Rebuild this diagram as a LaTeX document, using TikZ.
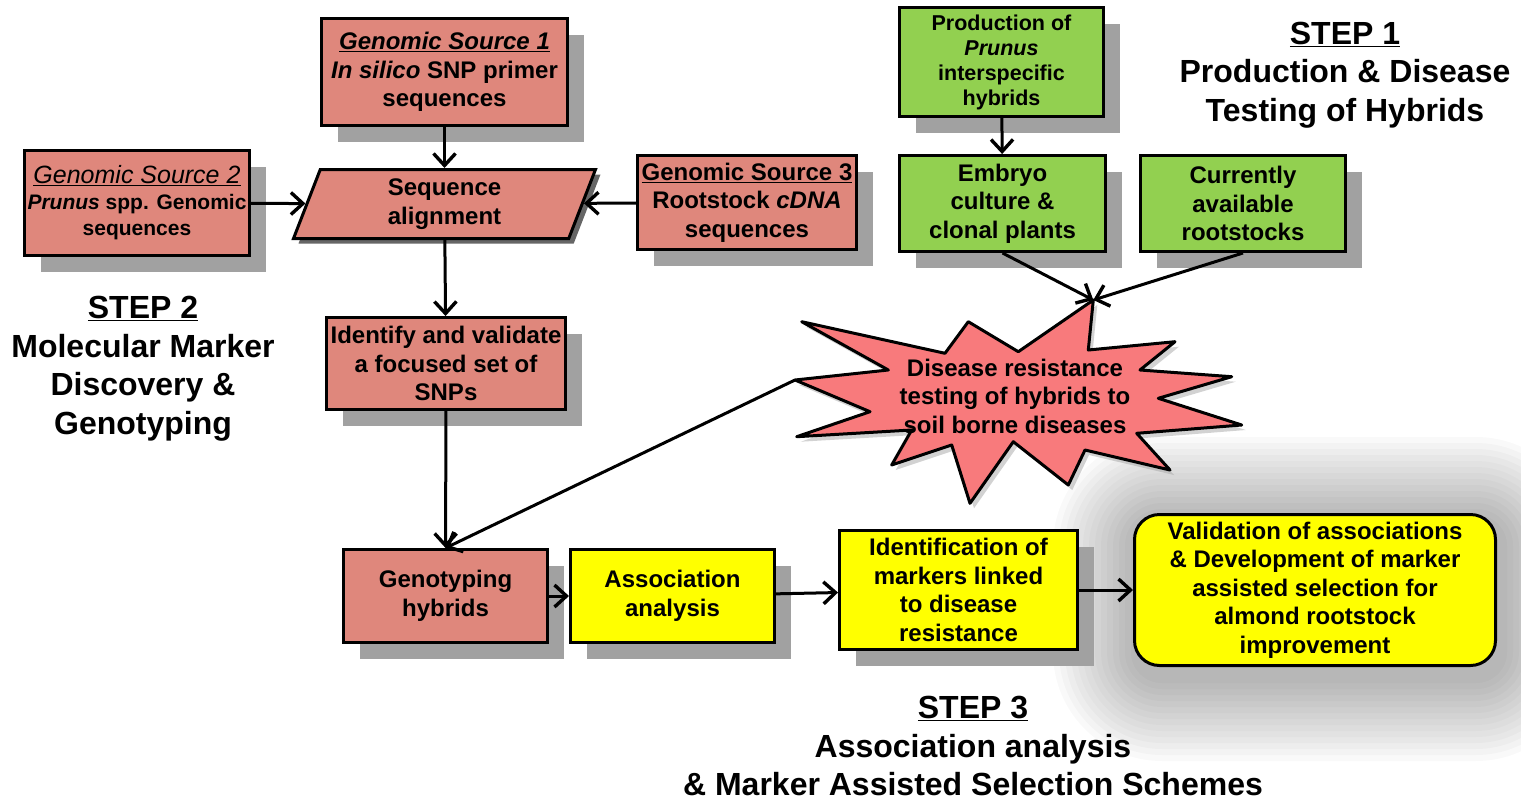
\documentclass[tikz,border=0pt]{standalone}
\usepackage{fontspec}
\setmainfont{Liberation Sans}
\usetikzlibrary{arrows.meta,shapes.geometric,shadows}
\definecolor{boxred}{RGB}{223,135,124}
\definecolor{burstred}{RGB}{248,122,124}
\definecolor{hybgreen}{RGB}{146,208,80}
\definecolor{assocyellow}{RGB}{255,255,0}

\begin{document}
\begin{tikzpicture}[x=1pt,y=-1pt,
font=\fontsize{24}{28.5}\selectfont\bfseries,
box/.style={draw,line width=3pt,align=center,inner sep=0pt,drop shadow={shadow xshift=16pt,shadow yshift=-16pt,fill=black!37,opacity=1}},
redbox/.style={box,fill=boxred},
greenbox/.style={box,fill=hybgreen},
yelbox/.style={box,fill=assocyellow},
arr/.style={-{Straight Barb[length=12pt,width=22pt,line width=3.4pt]},line width=3pt},
steplbl/.style={align=center,font=\fontsize{32}{38.5}\selectfont\bfseries}]
\useasboundingbox (0,0) rectangle (1521,801);

% soft glow behind the last box
\foreach \g in {1,...,14}
  \fill[black,opacity=.022,rounded corners={25+6*\g}] ({1137-6*\g},{521-6*\g}) rectangle ({1501+6*\g},{677+6*\g});

% starburst
\fill[black!35,opacity=.5,shift={(4,5)}] (801.7,321.7)--(945,353.3)--(968.3,321.7)--(1018.3,351.7)--(1093.3,300)--(1088.3,350)--(1175,341.7)--(1140,370)--(1231.7,376.7)--(1158.3,398.3)--(1241.7,425)--(1136.7,433.3)--(1170,470)--(1085,450)--(1068.3,485)--(1013.3,441.7)--(970,503.3)--(951.7,445)--(891.7,465)--(911.7,430)--(796.7,436.7)--(870,411.7)--(795,380)--(888.3,370)--cycle;
\draw[fill=burstred,line width=3pt,line join=round] (801.7,321.7)--(945,353.3)--(968.3,321.7)--(1018.3,351.7)--(1093.3,300)--(1088.3,350)--(1175,341.7)--(1140,370)--(1231.7,376.7)--(1158.3,398.3)--(1241.7,425)--(1136.7,433.3)--(1170,470)--(1085,450)--(1068.3,485)--(1013.3,441.7)--(970,503.3)--(951.7,445)--(891.7,465)--(911.7,430)--(796.7,436.7)--(870,411.7)--(795,380)--(888.3,370)--cycle;
\coordinate (burstN) at (1093.3,300);
\coordinate (burstW) at (795,380);
\node[align=center] (burst) at (1015,396) {Disease resistance\\testing of hybrids to\\soil borne diseases};

\node[redbox,minimum width=246pt,minimum height=107pt] (src1) at (444.5,72) {\underline{\textit{Genomic Source 1}}\\\textit{In silico} SNP primer\\sequences};
\node[redbox,minimum width=225pt,minimum height=105pt,font=\fontsize{21}{26}\selectfont\bfseries] (src2) at (137,203) {{\fontsize{25}{26}\selectfont\mdseries\underline{\textit{Genomic Source 2}}}\\\textit{Prunus} spp. Genomic\\sequences};
\node[redbox,minimum width=219pt,minimum height=94pt] (src3) at (747,202.5) {\underline{Genomic Source 3}\\Rootstock \textit{cDNA}\\sequences};
\node[trapezium,trapezium left angle=62,trapezium right angle=118,trapezium stretches body,draw,line width=3pt,fill=boxred,minimum width=302pt,minimum height=69pt,inner sep=0pt,align=center,drop shadow={shadow xshift=5pt,shadow yshift=-5pt,fill=black!60,opacity=1}] (seq) at (444.5,204) {Sequence\\alignment};
\node[redbox,minimum width=239pt,minimum height=92pt] (snps) at (446,363.5) {Identify and validate\\a focused set of\\SNPs};
\node[redbox,minimum width=204pt,minimum height=93pt] (geno) at (445.5,596) {Genotyping\\hybrids};
\node[yelbox,minimum width=204pt,minimum height=93pt] (assoc) at (672.5,596) {Association\\analysis};
\node[yelbox,minimum width=238pt,minimum height=119pt] (markers) at (958.5,590) {Identification of\\markers linked\\to disease\\resistance};
\node[draw,line width=3pt,fill=assocyellow,rounded corners=25pt,align=center,inner sep=0pt,minimum width=361pt,minimum height=151pt] (valid) at (1315,590) {Validation of associations\\\& Development of marker\\assisted selection for\\almond rootstock\\improvement};
\node[greenbox,minimum width=204pt,minimum height=109pt,font=\fontsize{21.5}{25}\selectfont\bfseries] (hyb) at (1001.5,62) {Production of\\\textit{Prunus}\\interspecific\\hybrids};
\node[greenbox,minimum width=206pt,minimum height=96pt] (embryo) at (1002.5,203.5) {Embryo\\culture \&\\clonal plants};
\node[greenbox,minimum width=205pt,minimum height=96pt] (curr) at (1243,203.5) {Currently\\available\\rootstocks};

\node[steplbl] (step1) at (1345,75) {\underline{STEP 1}\\Production \& Disease\\Testing of Hybrids};
\node[steplbl] (step2) at (143,368.5) {\underline{STEP 2}\\Molecular Marker\\Discovery \&\\Genotyping};
\node[steplbl] (step3) at (973,746) {\underline{STEP 3}\\Association analysis\\\& Marker Assisted Selection Schemes};

\draw[arr] (src1) -- (seq);
\draw[arr] (src2) -- (seq);
\draw[arr] (src3) -- (seq);
\draw[arr] (seq) -- (snps);
\draw[arr] (snps) -- (geno);
\draw[arr] (burstW) -- (geno.north);
\draw[arr] (hyb) -- (embryo);
\draw[arr] (embryo.south) -- (burstN);
\draw[arr] (curr.south) -- (burstN);
\draw[arr] (geno) -- (assoc);
\draw[arr] (assoc) -- (markers);
\draw[arr] (markers) -- (valid);
\end{tikzpicture}
\end{document}
